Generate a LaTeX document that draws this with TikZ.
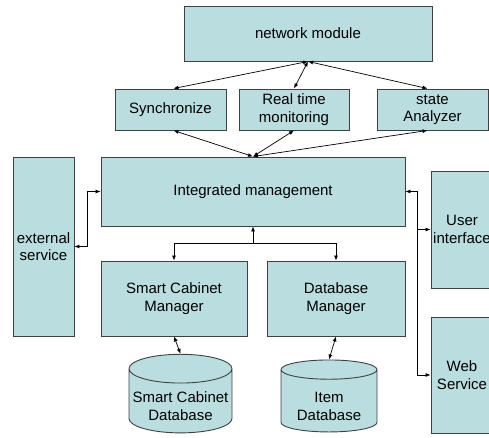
\documentclass[tikz,border=0pt]{standalone}
\usepackage{fontspec}
\setmainfont{Liberation Sans}
\usetikzlibrary{arrows.meta, shapes.geometric}
\definecolor{boxfill}{RGB}{186,222,224}
\definecolor{boxline}{RGB}{64,64,64}
% text in the cylinders sits a little below the middle
\newcommand{\cyltext}[1]{\raisebox{-7pt}[\height][\depth]{\begin{tabular}{@{}c@{}}#1\end{tabular}}}

\begin{document}
\begin{tikzpicture}[
  x=1pt, y=-1pt,
  font=\fontsize{15}{17.5}\selectfont,
  box/.style={draw=boxline, fill=boxfill, line width=0.9pt, inner sep=0pt,
              align=center},
  dbcyl/.style={box, cylinder, shape border rotate=90, aspect=0.3},
  arr/.style={{Latex[length=5pt,width=4pt]}-{Latex[length=5pt,width=4pt]},
              line width=0.7pt},
  oneway/.style={-{Latex[length=5pt,width=4pt]}, line width=0.7pt},
]
\useasboundingbox (0,0) rectangle (489,438);

\node[box, minimum width=248pt, minimum height=55pt] (net) at (308,33.5) {network module};

\node[box, minimum width=111pt, minimum height=41pt] (sync)  at (170.5,109.5) {Synchronize};
\node[box, minimum width=110pt, minimum height=41pt] (rtm)   at (294,109.5)   {Real time\\monitoring};
\node[box, minimum width=111pt, minimum height=41pt] (state) at (432.5,109.5) {state\\Analyzer};

\node[box, minimum width=304pt, minimum height=69pt] (im)  at (253,191.5) {Integrated management};
\node[box, minimum width=61pt,  minimum height=179pt] (ext) at (43.5,246.5) {external\\service};
\node[box, minimum width=62pt,  minimum height=117pt] (ui)  at (462,229.5) {User\\interface};
\node[box, minimum width=62pt,  minimum height=116pt] (web) at (462,375)   {Web\\Service};

\node[box, minimum width=146pt, minimum height=75pt] (scm) at (174,298.5) {Smart Cabinet\\Manager};
\node[box, minimum width=138pt, minimum height=75pt] (dbm) at (336,298.5) {Database\\Manager};

\node[dbcyl, minimum width=103pt, minimum height=72pt] (scdb)   at (180.5,401) {\cyltext{Smart Cabinet\\Database}};
\node[dbcyl, minimum width=96pt,  minimum height=72pt] (itemdb) at (329,401)   {\cyltext{Item\\Database}};

\draw[arr] (net.south) -- ([xshift=3pt]sync.north);
\draw[arr] (net.south) -- (rtm.north);
\draw[arr] (net.south) -- ([xshift=-5pt]state.north);

\draw[arr] (im.north) -- ([xshift=3pt]sync.south);
\draw[arr] (im.north) -- (rtm.south);
\draw[arr] (im.north) -- ([xshift=-5pt]state.south);

\coordinate (split) at ([yshift=-17pt]im.south);
\draw[oneway] (split) -- (im.south);
\draw[oneway] (split) -| (scm.north);
\draw[oneway] (split) -| (dbm.north);

\draw[arr] (im.west) -- ++(-13,0) |- (ext.east);

\coordinate (rbus) at ([xshift=12pt]im.east);
\draw[arr] (im.east) -- (rbus) |- (web.west);
\draw[oneway] (rbus) |- (ui.west);

\draw[arr] (scm.south) -- (scdb.north);
\draw[arr] (dbm.south) -- (itemdb.north);

\end{tikzpicture}
\end{document}
